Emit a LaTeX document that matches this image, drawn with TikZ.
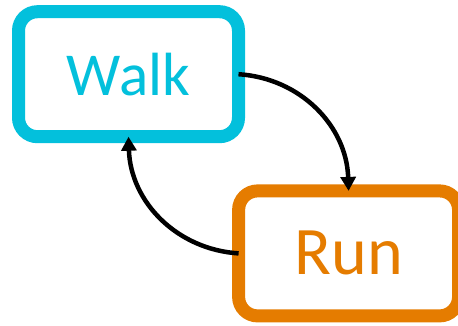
\documentclass[tikz,border=0pt]{standalone}
\usepackage{fontspec}
\setmainfont{Carlito}
\usetikzlibrary{arrows.meta}
\definecolor{walkc}{RGB}{3,192,220}
\definecolor{runc}{RGB}{229,124,0}
\tikzset{
  statebox/.style={draw, line width=13pt, rounded corners=19pt, fill=white,
    minimum width=220pt, minimum height=125pt, outer sep=0pt, inner sep=0pt},
  trans/.style={line width=4.5pt, -{Triangle[length=14pt,width=15pt]}}
}
\begin{document}
\begin{tikzpicture}[x=1pt,y=-1pt]
\useasboundingbox (0,0) rectangle (458,325);
\node[statebox, draw=walkc, text=walkc, font=\fontsize{61}{61}\selectfont] (walk) at (128.5,74.2) {Walk};
\node[statebox, draw=runc, text=runc, font=\fontsize{68}{68}\selectfont] (run) at (348.6,253.4) {Run};
\draw[trans] (walk.east) .. controls +(62,4) and +(-2,-65) .. (run.north);
\draw[trans] (run.west) .. controls +(-62,-4) and +(2,65) .. (walk.south);
\end{tikzpicture}
\end{document}
